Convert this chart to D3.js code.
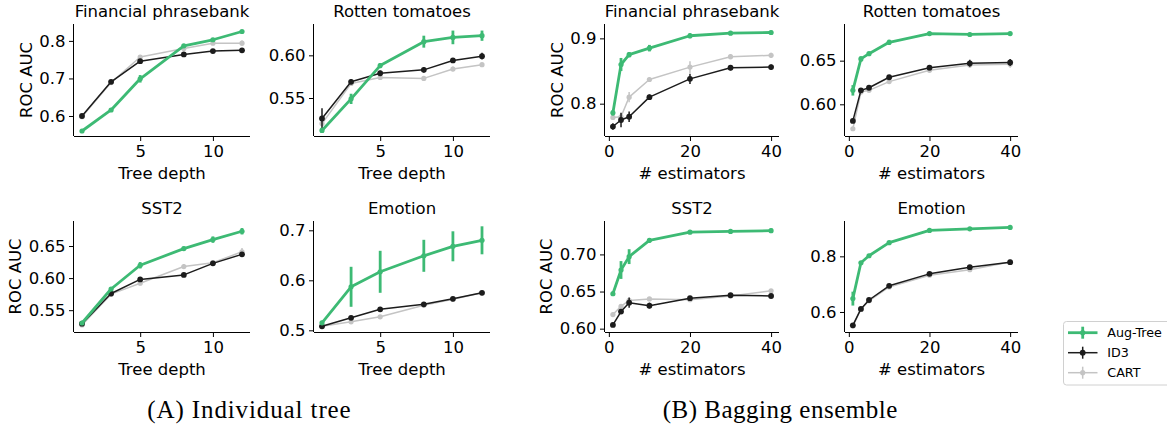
<!DOCTYPE html>
<html>
<head>
<meta charset="utf-8">
<script src="https://cdn.jsdelivr.net/npm/d3@7"></script>
<style>
  html, body { margin: 0; padding: 0; background: #fff; }
  svg { display: block; }
  text { font-family: "DejaVu Sans", sans-serif; fill: #000; }
</style>
</head>
<body>
<svg id="chart" width="1167" height="425"></svg>
<script>
// ---------- data ----------
const treeDepths = [1, 3, 5, 8, 10, 12];
const numEstimators = [1, 3, 5, 10, 20, 30, 40];
const seriesNames = ["Aug-Tree", "ID3", "CART"];
const panelTitles = ["Financial phrasebank", "Rotten tomatoes", "SST2", "Emotion"];
const captions = ["(A) Individual tree", "(B) Bagging ensemble"];

// Individual tree
const treeFinancialAug  = [0.560, 0.616, 0.699, 0.787, 0.803, 0.825];
const treeFinancialAugErr = [0.003, 0.004, 0.010, 0.004, 0.003, 0.003];
const treeFinancialID3  = [0.600, 0.691, 0.746, 0.764, 0.773, 0.775];
const treeFinancialID3Err = [0.003, 0.003, 0.003, 0.003, 0.003, 0.003];
const treeFinancialCART = [0.598, 0.689, 0.757, 0.780, 0.794, 0.794];
const treeFinancialCARTErr = [0.003, 0.003, 0.004, 0.003, 0.004, 0.007];

const treeRottenAug  = [0.512, 0.549, 0.588, 0.616, 0.621, 0.623];
const treeRottenAugErr = [0.003, 0.006, 0.003, 0.007, 0.008, 0.006];
const treeRottenID3  = [0.526, 0.569, 0.579, 0.583, 0.594, 0.599];
const treeRottenID3Err = [0.012, 0.003, 0.003, 0.003, 0.003, 0.004];
const treeRottenCART = [0.520, 0.567, 0.574, 0.573, 0.584, 0.589];
const treeRottenCARTErr = [0.003, 0.002, 0.002, 0.002, 0.003, 0.002];

const treeSst2Aug  = [0.530, 0.583, 0.620, 0.646, 0.660, 0.673];
const treeSst2AugErr = [0.002, 0.003, 0.005, 0.003, 0.005, 0.005];
const treeSst2ID3  = [0.529, 0.576, 0.598, 0.605, 0.623, 0.637];
const treeSst2ID3Err = [0.002, 0.002, 0.003, 0.002, 0.002, 0.003];
const treeSst2CART = [0.527, 0.575, 0.592, 0.618, 0.624, 0.641];
const treeSst2CARTErr = [0.002, 0.002, 0.003, 0.004, 0.003, 0.006];

const treeEmotionAug  = [0.515, 0.587, 0.617, 0.649, 0.668, 0.680];
const treeEmotionAugErr = [0.004, 0.040, 0.042, 0.032, 0.030, 0.028];
const treeEmotionID3  = [0.508, 0.525, 0.542, 0.552, 0.563, 0.575];
const treeEmotionID3Err = [0.003, 0.003, 0.003, 0.003, 0.003, 0.003];
const treeEmotionCART = [0.508, 0.517, 0.527, 0.550, 0.562, 0.575];
const treeEmotionCARTErr = [0.002, 0.002, 0.003, 0.003, 0.003, 0.003];

// Bagging ensemble
const bagFinancialAug  = [0.786, 0.860, 0.875, 0.885, 0.904, 0.908, 0.909];
const bagFinancialAugErr = [0.004, 0.010, 0.004, 0.005, 0.004, 0.003, 0.003];
const bagFinancialID3  = [0.765, 0.775, 0.780, 0.810, 0.838, 0.855, 0.856];
const bagFinancialID3Err = [0.005, 0.011, 0.008, 0.004, 0.008, 0.004, 0.004];
const bagFinancialCART = [0.779, 0.780, 0.810, 0.837, 0.856, 0.872, 0.874];
const bagFinancialCARTErr = [0.003, 0.005, 0.008, 0.003, 0.009, 0.004, 0.004];

const bagRottenAug  = [0.616, 0.652, 0.658, 0.671, 0.681, 0.680, 0.681];
const bagRottenAugErr = [0.006, 0.003, 0.002, 0.003, 0.002, 0.002, 0.002];
const bagRottenID3  = [0.581, 0.616, 0.619, 0.631, 0.642, 0.647, 0.648];
const bagRottenID3Err = [0.002, 0.002, 0.002, 0.002, 0.003, 0.004, 0.004];
const bagRottenCART = [0.572, 0.614, 0.616, 0.626, 0.639, 0.645, 0.646];
const bagRottenCARTErr = [0.002, 0.002, 0.002, 0.002, 0.003, 0.003, 0.004];

const bagSst2Aug  = [0.647, 0.679, 0.697, 0.719, 0.730, 0.731, 0.732];
const bagSst2AugErr = [0.003, 0.012, 0.010, 0.003, 0.002, 0.002, 0.003];
const bagSst2ID3  = [0.605, 0.623, 0.635, 0.631, 0.641, 0.645, 0.644];
const bagSst2ID3Err = [0.002, 0.003, 0.007, 0.004, 0.002, 0.002, 0.002];
const bagSst2CART = [0.619, 0.630, 0.638, 0.640, 0.639, 0.644, 0.651];
const bagSst2CARTErr = [0.003, 0.003, 0.003, 0.002, 0.002, 0.002, 0.002];

const bagEmotionAug  = [0.648, 0.777, 0.802, 0.849, 0.893, 0.899, 0.904];
const bagEmotionAugErr = [0.025, 0.006, 0.005, 0.004, 0.003, 0.003, 0.003];
const bagEmotionID3  = [0.552, 0.611, 0.643, 0.694, 0.737, 0.761, 0.779];
const bagEmotionID3Err = [0.003, 0.003, 0.003, 0.003, 0.003, 0.003, 0.003];
const bagEmotionCART = [0.550, 0.610, 0.640, 0.690, 0.732, 0.752, 0.780];
const bagEmotionCARTErr = [0.002, 0.002, 0.002, 0.002, 0.003, 0.003, 0.003];

// tick labels
const treeXTicks = [5, 10];
const bagXTicks = [0, 20, 40];
const yTicksTreeFinancial = [0.6, 0.7, 0.8];
const yTicksTreeRotten = [0.55, 0.60];
const yTicksTreeSst2 = [0.55, 0.60, 0.65];
const yTicksTreeEmotion = [0.5, 0.6, 0.7];
const yTicksBagFinancial = [0.8, 0.9];
const yTicksBagRotten = [0.60, 0.65];
const yTicksBagSst2 = [0.60, 0.65, 0.70];
const yTicksBagEmotion = [0.6, 0.8];

// ---------- styling / layout ----------
const colors = { "Aug-Tree": "#3dba74", "ID3": "#1c1c1c", "CART": "#c4c4c4" };
const lineW = { "Aug-Tree": 2.8, "ID3": 1.5, "CART": 1.5 };
const dotR = { "Aug-Tree": 2.6, "ID3": 2.9, "CART": 2.6 };
const drawOrder = ["CART", "ID3", "Aug-Tree"];

const colX = [74, 314, 605, 845];
const colW = [176, 176, 174, 173];
const rowY = [24, 221];
const rowH = [112, 111];

const panels = [
  { col: 0, row: 0, title: panelTitles[0], kind: "tree", yDom: [0.5467, 0.845], yTicks: yTicksTreeFinancial, fmt: ".1f", ylabel: true,
    s: { "Aug-Tree": [treeFinancialAug, treeFinancialAugErr], "ID3": [treeFinancialID3, treeFinancialID3Err], "CART": [treeFinancialCART, treeFinancialCARTErr] } },
  { col: 1, row: 0, title: panelTitles[1], kind: "tree", yDom: [0.5055, 0.6367], yTicks: yTicksTreeRotten, fmt: ".2f", ylabel: false,
    s: { "Aug-Tree": [treeRottenAug, treeRottenAugErr], "ID3": [treeRottenID3, treeRottenID3Err], "CART": [treeRottenCART, treeRottenCARTErr] } },
  { col: 0, row: 1, title: panelTitles[2], kind: "tree", yDom: [0.516, 0.689], yTicks: yTicksTreeSst2, fmt: ".2f", ylabel: true,
    s: { "Aug-Tree": [treeSst2Aug, treeSst2AugErr], "ID3": [treeSst2ID3, treeSst2ID3Err], "CART": [treeSst2CART, treeSst2CARTErr] } },
  { col: 1, row: 1, title: panelTitles[3], kind: "tree", yDom: [0.4966, 0.7186], yTicks: yTicksTreeEmotion, fmt: ".1f", ylabel: false,
    s: { "Aug-Tree": [treeEmotionAug, treeEmotionAugErr], "ID3": [treeEmotionID3, treeEmotionID3Err], "CART": [treeEmotionCART, treeEmotionCARTErr] } },
  { col: 2, row: 0, title: panelTitles[0], kind: "bag", yDom: [0.7505, 0.922], yTicks: yTicksBagFinancial, fmt: ".1f", ylabel: true,
    s: { "Aug-Tree": [bagFinancialAug, bagFinancialAugErr], "ID3": [bagFinancialID3, bagFinancialID3Err], "CART": [bagFinancialCART, bagFinancialCARTErr] } },
  { col: 3, row: 0, title: panelTitles[1], kind: "bag", yDom: [0.5637, 0.692], yTicks: yTicksBagRotten, fmt: ".2f", ylabel: false,
    s: { "Aug-Tree": [bagRottenAug, bagRottenAugErr], "ID3": [bagRottenID3, bagRottenID3Err], "CART": [bagRottenCART, bagRottenCARTErr] } },
  { col: 2, row: 1, title: panelTitles[2], kind: "bag", yDom: [0.5955, 0.745], yTicks: yTicksBagSst2, fmt: ".2f", ylabel: true,
    s: { "Aug-Tree": [bagSst2Aug, bagSst2AugErr], "ID3": [bagSst2ID3, bagSst2ID3Err], "CART": [bagSst2CART, bagSst2CARTErr] } },
  { col: 3, row: 1, title: panelTitles[3], kind: "bag", yDom: [0.528, 0.927], yTicks: yTicksBagEmotion, fmt: ".1f", ylabel: false,
    s: { "Aug-Tree": [bagEmotionAug, bagEmotionAugErr], "ID3": [bagEmotionID3, bagEmotionID3Err], "CART": [bagEmotionCART, bagEmotionCARTErr] } }
];

const svg = d3.select("#chart");
const FS = 16.5;

panels.forEach(p => {
  const x0 = colX[p.col], w = colW[p.col], y0 = rowY[p.row], h = rowH[p.row];
  const xs = p.kind === "tree" ? treeDepths : numEstimators;
  const xDom = p.kind === "tree" ? [0.45, 12.55] : [-0.95, 41.95];
  const xScale = d3.scaleLinear().domain(xDom).range([0, w]);
  const yScale = d3.scaleLinear().domain(p.yDom).range([h, 0]);
  const g = svg.append("g").attr("transform", `translate(${x0},${y0})`);

  // axes
  const xAxis = d3.axisBottom(xScale).tickValues(p.kind === "tree" ? treeXTicks : bagXTicks)
    .tickSize(5).tickPadding(4).tickFormat(d3.format("d"));
  const yAxis = d3.axisLeft(yScale).tickValues(p.yTicks).tickSize(5).tickPadding(3.5)
    .tickFormat(d3.format(p.fmt));
  const gx = g.append("g").attr("transform", `translate(0,${h})`).call(xAxis);
  const gy = g.append("g").call(yAxis);
  [gx, gy].forEach(a => {
    a.select(".domain").attr("stroke", "#000").attr("stroke-width", 1);
    a.selectAll(".tick line").attr("stroke", "#000").attr("stroke-width", 1);
    a.selectAll(".tick text").attr("font-family", "DejaVu Sans").attr("font-size", FS).attr("fill", "#000");
  });
  gx.select(".domain").attr("d", `M0,0.5H${w}`);
  gy.select(".domain").attr("d", `M-0.5,${h}V0`);

  // series
  drawOrder.forEach(name => {
    const [vals, errs] = p.s[name];
    const pts = xs.map((xv, i) => ({ x: xv, y: vals[i], e: errs[i] }));
    const sg = g.append("g");
    sg.append("path").datum(pts)
      .attr("fill", "none").attr("stroke", colors[name]).attr("stroke-width", lineW[name])
      .attr("stroke-linejoin", "round")
      .attr("d", d3.line().x(d => xScale(d.x)).y(d => yScale(d.y)));
    sg.selectAll("line.err").data(pts).enter().append("line")
      .attr("x1", d => xScale(d.x)).attr("x2", d => xScale(d.x))
      .attr("y1", d => yScale(d.y - d.e)).attr("y2", d => yScale(d.y + d.e))
      .attr("stroke", colors[name]).attr("stroke-width", lineW[name]);
    sg.selectAll("circle").data(pts).enter().append("circle")
      .attr("cx", d => xScale(d.x)).attr("cy", d => yScale(d.y)).attr("r", dotR[name])
      .attr("fill", colors[name]);
  });

  // title
  g.append("text").attr("x", w / 2).attr("y", -7).attr("text-anchor", "middle")
    .attr("font-size", FS).text(p.title);
  // x label
  g.append("text").attr("x", w / 2).attr("y", h + 43).attr("text-anchor", "middle")
    .attr("font-size", FS).text(p.kind === "tree" ? "Tree depth" : "# estimators");
  // y label (offset depends on tick label width, like matplotlib)
  if (p.ylabel) {
    const off = p.fmt === ".2f" ? -59 : -48;
    g.append("text").attr("transform", `translate(${off},${h / 2}) rotate(-90)`)
      .attr("text-anchor", "middle").attr("dy", "0.35em").attr("font-size", FS).text("ROC AUC");
  }
});

// legend
const lg = svg.append("g").attr("transform", "translate(1063.5,321.5)");
lg.append("rect").attr("width", 110).attr("height", 63.5).attr("rx", 3)
  .attr("fill", "#fff").attr("stroke", "#d0d0d0").attr("stroke-width", 1);
seriesNames.forEach((name, i) => {
  const cy = 11.2 + i * 20;
  lg.append("line").attr("x1", 4.5).attr("x2", 34).attr("y1", cy).attr("y2", cy)
    .attr("stroke", colors[name]).attr("stroke-width", lineW[name]);
  lg.append("line").attr("x1", 19.2).attr("x2", 19.2).attr("y1", cy - 6).attr("y2", cy + 6)
    .attr("stroke", colors[name]).attr("stroke-width", lineW[name]);
  lg.append("circle").attr("cx", 19.2).attr("cy", cy).attr("r", dotR[name]).attr("fill", colors[name]);
  lg.append("text").attr("x", 43.8).attr("y", cy).attr("dy", "0.35em")
    .attr("font-size", 12.7).text(name);
});

// captions
const capX = [147.3, 662.7], capW = [203.4, 234.6];
captions.forEach((c, i) => {
  svg.append("text").attr("x", capX[i]).attr("y", 418)
    .attr("font-size", 25)
    .attr("textLength", capW[i]).attr("lengthAdjust", "spacing")
    .style("font-family", "'Liberation Serif', serif").text(c);
});
</script>
</body>
</html>
